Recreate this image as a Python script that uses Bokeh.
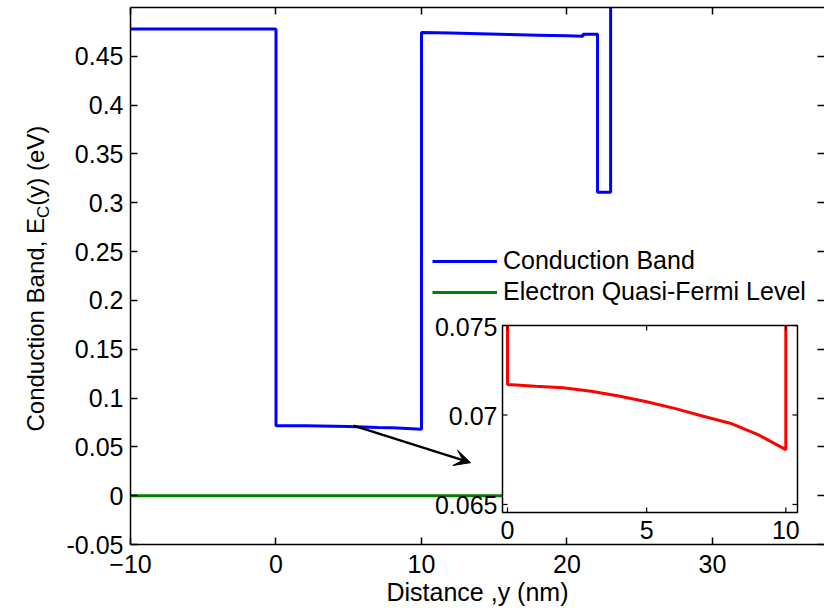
import numpy as np
from bokeh.plotting import figure
from bokeh.layouts import row
from bokeh.models import (Range1d, LinearAxis, FixedTicker, PrintfTickFormatter,
                          CustomJSTickFormatter, Legend, LegendItem, Arrow, VeeHead, Label)
from bokeh.core.properties import value
from bokeh.embed import file_html
from bokeh.resources import INLINE

# Conduction band edge along the structure (distance y in nm, Ec in eV)
CB_X = [-10.0, 0.0, 0.0, 1.0, 2.0, 3.0, 4.0, 5.0, 6.0, 7.0, 8.0, 9.0, 10.0,
        10.0, 12.0, 14.0, 16.0, 18.0, 20.0, 21.1, 21.1, 22.1, 22.1, 23.0, 23.0]
CB_Y = [0.478, 0.478, 0.0717, 0.0716, 0.07152, 0.07133, 0.07106, 0.07074,
        0.07037, 0.06994, 0.06954, 0.0689, 0.06806,
        0.4744, 0.4738, 0.4731, 0.4724, 0.4717, 0.4710, 0.4705, 0.4727,
        0.4727, 0.3108, 0.3108, 0.56]

# Electron quasi-Fermi level
EF_X = [-10.0, 35.0]
EF_Y = [0.0, 0.0]

# Axis ticks
X_TICKS = [-10, 0, 10, 20, 30]
Y_TICKS = [-0.05, 0, 0.05, 0.1, 0.15, 0.2, 0.25, 0.3, 0.35, 0.4, 0.45]
INSET_X_TICKS = [0, 5, 10]
INSET_X_LABELS = ["0", "5", "10"]
INSET_Y_TICKS = [0.065, 0.07, 0.075]
INSET_Y_LABELS = ["0.065", "0.07", "0.075"]

# Y axis title, split so the "C" can be set as a subscript
Y_TITLE = ["Conduction Band, E", "C", "(y) (eV)"]

# Plot limits
X_LIM = (-10.0, 37.7)
Y_LIM = (-0.05, 0.5)
INSET_XLIM = (-0.18, 10.42)
INSET_YLIM = (0.06455, 0.075)

# Canvas geometry (pixels)
W, H = 824, 611
TITLE_W = 60                      # strip on the left holding the y title
FRAME_L, FRAME_R, FRAME_T, FRAME_B = 130, 824, 7, 544
INSET_PX = dict(left=502, right=797, top=325, bottom=512)

FONT = "Liberation Sans"
FS = "25px"


def px_x(px):
    return X_LIM[0] + (px - FRAME_L) * (X_LIM[1] - X_LIM[0]) / (FRAME_R - FRAME_L)


def px_y(py):
    return Y_LIM[1] - (py - FRAME_T) * (Y_LIM[1] - Y_LIM[0]) / (FRAME_B - FRAME_T)


p = figure(width=W - TITLE_W, height=H, output_backend="svg", toolbar_location=None,
           x_range=Range1d(*X_LIM), y_range=Range1d(*Y_LIM),
           min_border_left=FRAME_L - TITLE_W, min_border_right=0,
           min_border_top=FRAME_T, min_border_bottom=H - FRAME_B)
p.outline_line_color = None
p.xgrid.visible = False
p.ygrid.visible = False
p.background_fill_color = "white"
p.border_fill_color = "white"


def style_axis(ax, ticks, labels=True):
    ax.ticker = FixedTicker(ticks=ticks)
    ax.major_tick_in = 7
    ax.major_tick_out = 0
    ax.minor_tick_line_color = None
    ax.axis_line_width = 1.5
    ax.axis_line_color = "black"
    ax.major_tick_line_width = 1.5
    ax.major_tick_line_color = "black"
    if labels:
        ax.major_label_text_font = FONT
        ax.major_label_text_font_size = FS
        ax.major_label_text_color = "black"
    else:
        ax.formatter = CustomJSTickFormatter(code="return ''")
        ax.major_label_standoff = 0


xax = p.below[0]
style_axis(xax, X_TICKS)
xax.major_label_standoff = 10
xax.axis_label = "Distance ,y (nm)"
xax.axis_label_text_font = FONT
xax.axis_label_text_font_size = FS
xax.axis_label_text_font_style = "normal"
xax.axis_label_text_color = "black"
xax.axis_label_standoff = 2

yax = p.left[0]
style_axis(yax, Y_TICKS)
yax.formatter = PrintfTickFormatter(format="%g")
yax.major_label_standoff = 7

top_ax = LinearAxis()
style_axis(top_ax, X_TICKS, labels=False)
p.add_layout(top_ax, "above")

right_ax = LinearAxis()
style_axis(right_ax, Y_TICKS, labels=False)
right_ax.axis_line_color = None
p.add_layout(right_ax, "right")

# Main curves
r_cb = p.line(CB_X, CB_Y, line_color="#0000ff", line_width=3)
r_ef = p.line(EF_X, EF_Y, line_color="#008000", line_width=3)

# Inset: its own ranges mapped onto a box inside the main frame
bl, br = px_x(INSET_PX["left"]), px_x(INSET_PX["right"])
bt, bb = px_y(INSET_PX["top"]), px_y(INSET_PX["bottom"])
kx = (INSET_XLIM[1] - INSET_XLIM[0]) / (br - bl)
ky = (INSET_YLIM[1] - INSET_YLIM[0]) / (bt - bb)
p.extra_x_ranges = {"ix": Range1d(INSET_XLIM[0] - (bl - X_LIM[0]) * kx,
                                  INSET_XLIM[1] + (X_LIM[1] - br) * kx)}
p.extra_y_ranges = {"iy": Range1d(INSET_YLIM[0] - (bb - Y_LIM[0]) * ky,
                                  INSET_YLIM[1] + (Y_LIM[1] - bt) * ky)}
IN = dict(x_range_name="ix", y_range_name="iy")

p.quad(left=[INSET_XLIM[0]], right=[INSET_XLIM[1]],
       bottom=[INSET_YLIM[0]], top=[INSET_YLIM[1]],
       fill_color="white", line_color="black", line_width=1.5, **IN)

# Quantum-well part of the band edge, clipped to the inset window
cbx = np.array(CB_X)
cby = np.array(CB_Y)
well = (cbx >= 0) & (cbx <= 10)
p.line(cbx[well], np.clip(cby[well], INSET_YLIM[0], INSET_YLIM[1]),
       line_color="#ff0000", line_width=3, **IN)

# Inset ticks (inward)
tick_kw = dict(length=5, length_units="screen", line_color="black", line_width=1.2, **IN)
n_y = len(INSET_Y_TICKS)
n_x = len(INSET_X_TICKS)
p.ray(x=[INSET_XLIM[0]] * n_y, y=INSET_Y_TICKS, angle=0, **tick_kw)
p.ray(x=[INSET_XLIM[1]] * n_y, y=INSET_Y_TICKS, angle=np.pi, **tick_kw)
p.ray(x=INSET_X_TICKS, y=[INSET_YLIM[0]] * n_x, angle=np.pi / 2, **tick_kw)
p.ray(x=INSET_X_TICKS, y=[INSET_YLIM[1]] * n_x, angle=-np.pi / 2, **tick_kw)

# Inset tick labels
p.text(x=[INSET_XLIM[0]] * n_y, y=INSET_Y_TICKS, text=INSET_Y_LABELS,
       x_offset=-5, y_offset=1, text_align="right", text_baseline="middle",
       text_font=value(FONT), text_font_size=value(FS), text_color="black", **IN)
p.text(x=INSET_X_TICKS, y=[INSET_YLIM[0]] * n_x, text=INSET_X_LABELS,
       y_offset=8, text_align="center", text_baseline="top",
       text_font=value(FONT), text_font_size=value(FS), text_color="black", **IN)

# Arrow from the well to the inset
p.add_layout(Arrow(end=VeeHead(size=16, fill_color="black", line_color="black", line_width=1),
                   x_start=5.33, y_start=0.0717, x_end=13.37, y_end=0.0338,
                   line_color="black", line_width=2.5))

# Legend
legend = Legend(items=[LegendItem(label="Conduction Band", renderers=[r_cb]),
                       LegendItem(label="Electron Quasi-Fermi Level", renderers=[r_ef])],
                location=(302, 238), border_line_color=None, background_fill_alpha=0,
                padding=0, margin=0, spacing=2, glyph_width=65, glyph_height=28,
                label_height=28, label_standoff=6, label_text_font=FONT,
                label_text_font_size=FS, label_text_color="black")
p.add_layout(legend)

# Left strip: y axis title placed in canvas pixels (origin top-left)
t = figure(width=TITLE_W, height=H, output_backend="svg", toolbar_location=None,
           title=None, x_range=Range1d(0, TITLE_W), y_range=Range1d(0, H),
           x_axis_type=None, y_axis_type=None,
           min_border_left=0, min_border_right=0, min_border_top=0, min_border_bottom=0)
t.outline_line_color = None
t.xgrid.visible = False
t.ygrid.visible = False
t.background_fill_color = "white"
t.border_fill_color = "white"

title_pos = [(35, 431.0, "24px"), (43, 217.5, "17px"), (35, 205.2, "24px")]
for txt, (cx, cy, fs) in zip(Y_TITLE, title_pos):
    t.add_layout(Label(x=cx, y=cy, x_units="canvas", y_units="canvas", text=txt,
                       angle=90, angle_units="deg", text_align="left",
                       text_baseline="alphabetic", text_font=FONT,
                       text_font_size=fs, text_color="black"))

open("out.html", "w").write(file_html(row(t, p, spacing=0), INLINE))
